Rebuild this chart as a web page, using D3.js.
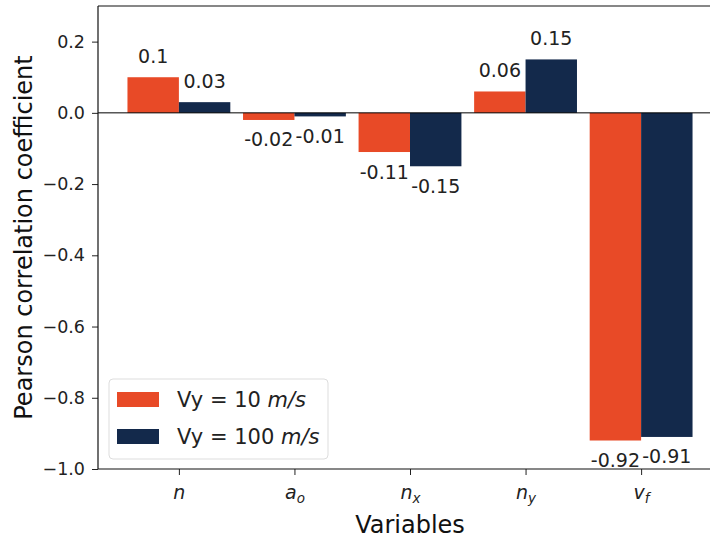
<!DOCTYPE html>
<html>
<head>
<meta charset="utf-8">
<script src="https://cdn.jsdelivr.net/npm/d3@7"></script>
<style>
  html, body { margin: 0; padding: 0; background: #fff; }
  svg { display: block; font-family: "DejaVu Sans", sans-serif; }
</style>
</head>
<body>
<svg id="chart" width="710" height="538"></svg>
<script>
// Variables (rendered as italic math with subscripts)
const variables = [
  { base: "n", sub: "" },
  { base: "a", sub: "o" },
  { base: "n", sub: "x" },
  { base: "n", sub: "y" },
  { base: "v", sub: "f" }
];
// Pearson correlation for each variable, per vertical speed
const vy10 = [0.1, -0.02, -0.11, 0.06, -0.92];
const vy100 = [0.03, -0.01, -0.15, 0.15, -0.91];
const seriesNames = ["Vy = 10 ", "Vy = 100 "];
const seriesColors = ["#E84A27", "#13294B"];
const yTicks = [-1.0, -0.8, -0.6, -0.4, -0.2, 0.0, 0.2];

const svg = d3.select("#chart");
const plotLeft = 98, plotTop = 6, plotBottom = 469, plotRight = 722;

const x = d3.scaleLinear().domain([-0.7, 4.7]).range([plotLeft, plotRight]);
const y = d3.scaleLinear().domain([-1.0, 0.3]).range([plotBottom, plotTop]);
const barW = 0.445;

const series = [vy10, vy100];

// Bars
series.forEach((vals, s) => {
  const off = s === 0 ? -barW : 0;
  svg.append("g").selectAll("rect").data(vals).join("rect")
    .attr("x", (d, i) => x(i + off))
    .attr("width", x(barW) - x(0))
    .attr("y", d => y(Math.max(0, d)))
    .attr("height", d => Math.abs(y(d) - y(0)))
    .attr("fill", seriesColors[s]);

  // Value labels
  svg.append("g").selectAll("text").data(vals).join("text")
    .attr("x", (d, i) => x(i + off + barW / 2))
    .attr("y", d => d >= 0 ? y(d) - 14 : y(d) + 26.5)
    .attr("text-anchor", "middle")
    .attr("font-size", 19)
    .attr("fill", "#222")
    .text(d => String(d));
});

// Zero line
svg.append("line")
  .attr("x1", plotLeft).attr("x2", 710)
  .attr("y1", y(0)).attr("y2", y(0))
  .attr("stroke", "#000").attr("stroke-width", 1);

// Y axis
const yAxis = d3.axisLeft(y).tickValues(yTicks).tickSize(6).tickPadding(7)
  .tickFormat(d3.format(".1f"));
const gy = svg.append("g").attr("transform", `translate(${plotLeft},0)`).call(yAxis);
gy.select(".domain").remove();
gy.selectAll("text").attr("font-size", 17.5).attr("fill", "#222")
  .attr("font-family", "DejaVu Sans, sans-serif");
gy.selectAll("line").attr("stroke", "#222");

// X axis
const xAxis = d3.axisBottom(x).tickValues(d3.range(variables.length)).tickSize(6)
  .tickFormat(() => "");
const gx = svg.append("g").attr("transform", `translate(0,${plotBottom})`).call(xAxis);
gx.select(".domain").remove();
gx.selectAll("line").attr("stroke", "#222");
gx.selectAll(".tick").each(function(d) {
  const v = variables[d];
  const t = d3.select(this).append("text")
    .attr("y", 30).attr("text-anchor", "middle")
    .attr("font-size", 19).attr("font-style", "italic").attr("fill", "#222")
    .attr("font-family", "DejaVu Sans, sans-serif");
  t.append("tspan").text(v.base);
  if (v.sub) t.append("tspan").attr("font-size", 13.5).attr("dy", 4).text(v.sub);
});

// Spines
svg.append("line").attr("x1", plotLeft).attr("x2", plotLeft).attr("y1", plotTop).attr("y2", plotBottom)
  .attr("stroke", "#111").attr("stroke-width", 1.2);
svg.append("line").attr("x1", plotLeft).attr("x2", 710).attr("y1", plotTop).attr("y2", plotTop)
  .attr("stroke", "#111").attr("stroke-width", 1.2);
svg.append("line").attr("x1", plotLeft).attr("x2", 710).attr("y1", plotBottom).attr("y2", plotBottom)
  .attr("stroke", "#111").attr("stroke-width", 1.2);

// Axis titles
svg.append("text").attr("x", 410).attr("y", 533)
  .attr("text-anchor", "middle").attr("font-size", 24).attr("fill", "#111")
  .text("Variables");
svg.append("text")
  .attr("transform", `translate(32,${(plotTop + plotBottom) / 2}) rotate(-90)`)
  .attr("text-anchor", "middle").attr("font-size", 24).attr("fill", "#111")
  .text("Pearson correlation coefficient");

// Legend
const lg = svg.append("g");
lg.append("rect").attr("x", 109).attr("y", 379).attr("width", 219).attr("height", 80)
  .attr("rx", 4).attr("fill", "rgba(255,255,255,0.8)").attr("stroke", "#ddd");
seriesNames.forEach((name, s) => {
  const yy = 392 + s * 37;
  lg.append("rect").attr("x", 117).attr("y", yy).attr("width", 42).attr("height", 15)
    .attr("fill", seriesColors[s]);
  const t = lg.append("text").attr("x", 177).attr("y", yy + 15)
    .attr("font-size", 21).attr("fill", "#222");
  t.append("tspan").text(name);
  t.append("tspan").attr("font-style", "italic").text("m/s");
});
</script>
</body>
</html>
